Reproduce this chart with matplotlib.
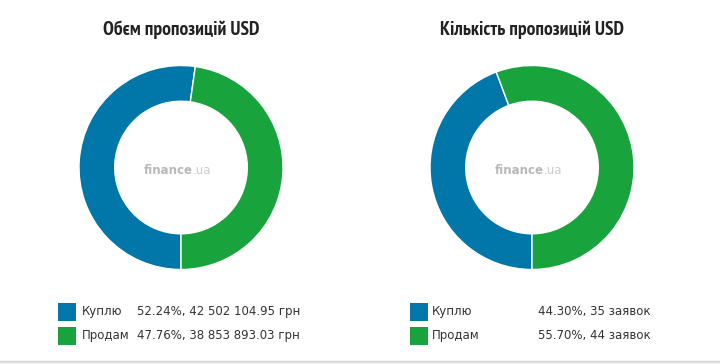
import matplotlib.pyplot as plt
from matplotlib.patches import Rectangle

# дані
categories = ['Куплю', 'Продам']
volume_pct = [52.24, 47.76]
volume_uah = ['42 502 104.95', '38 853 893.03']
count_pct = [44.30, 55.70]
count_n = [35, 44]
titles = ['Обєм пропозицій USD', 'Кількість пропозицій USD']
colors = ['#0077a8', '#19a33d']

W, H = 720, 364
fig = plt.figure(figsize=(W / 100, H / 100), dpi=100)
fig.patch.set_facecolor('white')


def px_axes(x0, y0, w, h):
    # pixel box (top-left origin) -> figure fraction
    return fig.add_axes([x0 / W, 1 - (y0 + h) / H, w / W, h / H])


title_font = ['PT Sans Narrow', 'Roboto Condensed', 'DejaVu Sans']
body_font = ['Verdana', 'DejaVu Sans']
centers = [181, 532]
R = 102
for i, (cx, pct) in enumerate(zip(centers, [volume_pct, count_pct])):
    ax = px_axes(cx - R, 167.5 - R, 2 * R, 2 * R)
    ax.pie(pct, colors=colors, startangle=270, counterclock=False, radius=1,
           wedgeprops=dict(width=0.35, edgecolor='white', linewidth=1))
    ax.set_xlim(-1, 1)
    ax.set_ylim(-1, 1)
    ax.set_aspect('equal')
    ax.axis('off')
    # watermark
    ax.text(0.12, -0.03, 'finance', ha='right', va='center', fontsize=8.5,
            fontweight='bold', color='#b8b8b8', family='DejaVu Sans')
    ax.text(0.12, -0.03, '.ua', ha='left', va='center', fontsize=8.5,
            color='#cccccc', family='DejaVu Sans')
    fig.text(cx / W, 1 - 30 / H, titles[i], ha='center', va='center',
             fontsize=14, fontweight='bold', color='#222222', family=title_font)

# легенди
rows_y = [311.5, 335.5]
left_vals = [f'{p:.2f}%, {v} грн' for p, v in zip(volume_pct, volume_uah)]
right_vals = [f'{p:.2f}%, {n} заявок' for p, n in zip(count_pct, count_n)]
for (sx, lx, vx, vals) in [(58, 82, 137, left_vals), (410, 432, 538, right_vals)]:
    for j, y in enumerate(rows_y):
        fig.patches.append(Rectangle((sx / W, 1 - (y + 9) / H), 18 / W, 18 / H,
                                     transform=fig.transFigure, facecolor=colors[j],
                                     edgecolor='none'))
        fig.text(lx / W, 1 - y / H, categories[j], ha='left', va='center',
                 fontsize=8.5, color='#333333', family=body_font)
        fig.text(vx / W, 1 - y / H, vals[j], ha='left', va='center',
                 fontsize=8.5, color='#333333', family=body_font)

# нижня смуга
fig.patches.append(Rectangle((0, 0), 1, 3 / H, transform=fig.transFigure,
                             facecolor='#ececec', edgecolor='none'))
fig.lines.append(plt.Line2D([0, 1], [3 / H, 3 / H], transform=fig.transFigure,
                            color='#d2d2d2', linewidth=1))

fig.savefig('out.png', dpi=100)
